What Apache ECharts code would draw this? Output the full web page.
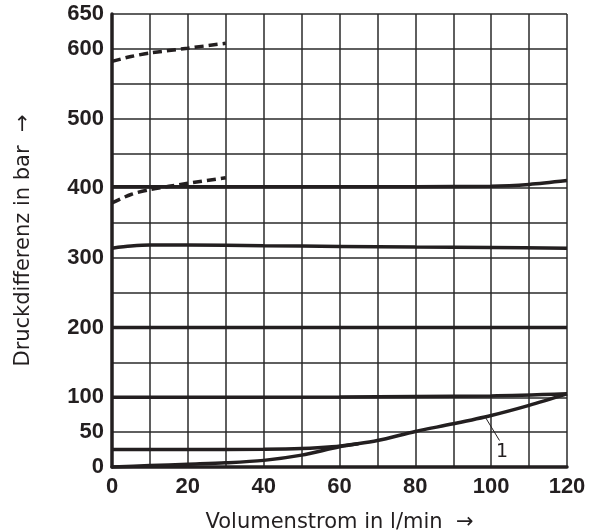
<!DOCTYPE html>
<html>
<head>
<meta charset="utf-8">
<script src="https://cdn.jsdelivr.net/npm/echarts@6/dist/echarts.min.js"></script>
<style>html,body{margin:0;padding:0;background:#fff}#c{width:593px;height:530px}</style>
</head>
<body>
<div id="c"></div>
<script>
// Tick labels
const xTickLabels = [0, 20, 40, 60, 80, 100, 120];
const yTickLabels = [0, 50, 100, 200, 300, 400, 500, 600, 650];

// Curve 1 (rising characteristic)
const curve1X = [0, 10, 20, 30, 40, 50, 60, 70, 80, 90, 100, 110, 120];
const curve1Y = [0, 2, 4, 6, 9.5, 17, 29, 38, 51, 62, 74, 88.5, 105];

// Low flat line ~25 bar merging into curve 1
const low25X = [0, 20, 40, 50, 58, 65];
const low25Y = [25, 25, 25.5, 26.5, 29, 33.5];

// ~100 bar line
const line100X = [0, 60, 100, 120];
const line100Y = [100, 100.5, 102, 105];

// 200 bar line
const line200X = [0, 120];
const line200Y = [200, 200];

// ~316 bar line
const line315X = [0, 5, 10, 20, 40, 60, 80, 100, 120];
const line315Y = [314, 317, 318.5, 318.5, 317.5, 316.5, 315.5, 315, 314];

// ~400 bar line
const line400X = [0, 20, 60, 100, 110, 120];
const line400Y = [402, 402, 402, 403, 405.5, 411];

// dashed lines
const dashLowX = [0, 5, 10, 20, 30];
const dashLowY = [379, 391, 398, 407, 415];
const dashHighX = [0, 5, 10, 20, 30];
const dashHighY = [582, 589, 594, 601, 608];

// annotation "1"
const leaderStart = [98.4, 72];
const leaderEnd = [102.2, 38];
const label1Pos = [102.9, 22];
const label1Text = '1';

// axis titles
const xTitle = 'Volumenstrom in l/min';
const yTitle = 'Druckdifferenz in bar';

const zip = (xs, ys) => xs.map((x, i) => [x, ys[i]]);
const ink = '#231f20';

function lineSeries(xs, ys, opts) {
  return Object.assign({
    type: 'line',
    data: zip(xs, ys),
    showSymbol: false,
    symbol: 'none',
    smooth: 0.3,
    lineStyle: { color: ink, width: 3.5 },
    z: 5,
    silent: true
  }, opts || {});
}

const titleRich = {
  t: { fontFamily: 'DejaVu Sans', fontSize: 21, color: ink },
  a: { fontFamily: 'DejaVu Sans', fontSize: 21, color: ink }
};

const chart = echarts.init(document.getElementById('c'), null, { renderer: 'canvas' });
chart.setOption({
  animation: false,
  grid: { left: 112, right: 26, top: 14, bottom: 63, containLabel: false, outerBoundsMode: 'none' },
  xAxis: {
    type: 'value', min: 0, max: 120, interval: 10,
    name: '{t|' + xTitle + '  }{a|→}',
    nameLocation: 'middle', nameGap: 45,
    nameTextStyle: { rich: titleRich },
    axisLine: { show: true, onZero: false, lineStyle: { color: ink, width: 3.5 } },
    axisTick: { show: false },
    axisLabel: {
      margin: 9, fontFamily: 'Liberation Sans', fontWeight: 'bold', fontSize: 22, color: ink,
      formatter: v => xTickLabels.includes(v) ? String(v) : ''
    },
    splitLine: { show: true, lineStyle: { color: '#2a2a2a', width: 1.5 } }
  },
  yAxis: {
    type: 'value', min: 0, max: 650, interval: 50,
    name: '{t|' + yTitle + '  }{a|→}',
    nameLocation: 'middle', nameGap: 78, nameRotate: 90,
    nameTextStyle: { rich: titleRich },
    axisLine: { show: true, onZero: false, lineStyle: { color: ink, width: 3.5 } },
    axisTick: { show: false },
    axisLabel: {
      margin: 8, fontFamily: 'Liberation Sans', fontWeight: 'bold', fontSize: 22, color: ink,
      formatter: v => yTickLabels.includes(v) ? String(v) : ''
    },
    splitLine: { show: true, lineStyle: { color: '#2a2a2a', width: 1.5 } }
  },
  series: [
    lineSeries(curve1X, curve1Y, {
      markLine: {
        silent: true, symbol: ['none', 'none'], animation: false,
        label: { show: false },
        lineStyle: { color: ink, width: 1, type: 'solid' },
        data: [[{ coord: leaderStart }, { coord: leaderEnd }]]
      },
      markPoint: {
        silent: true, symbol: 'circle', symbolSize: 0,
        label: { show: true, formatter: label1Text, fontFamily: 'DejaVu Sans', fontSize: 19, color: ink, position: 'inside' },
        data: [{ coord: label1Pos }]
      }
    }),
    lineSeries(low25X, low25Y),
    lineSeries(line100X, line100Y),
    lineSeries(line200X, line200Y, { smooth: false }),
    lineSeries(line315X, line315Y),
    lineSeries(line400X, line400Y),
    lineSeries(dashLowX, dashLowY, { lineStyle: { color: ink, width: 3.5, type: [9, 5] } }),
    lineSeries(dashHighX, dashHighY, { lineStyle: { color: ink, width: 3.5, type: [9, 5] } })
  ]
});
</script>
</body>
</html>
